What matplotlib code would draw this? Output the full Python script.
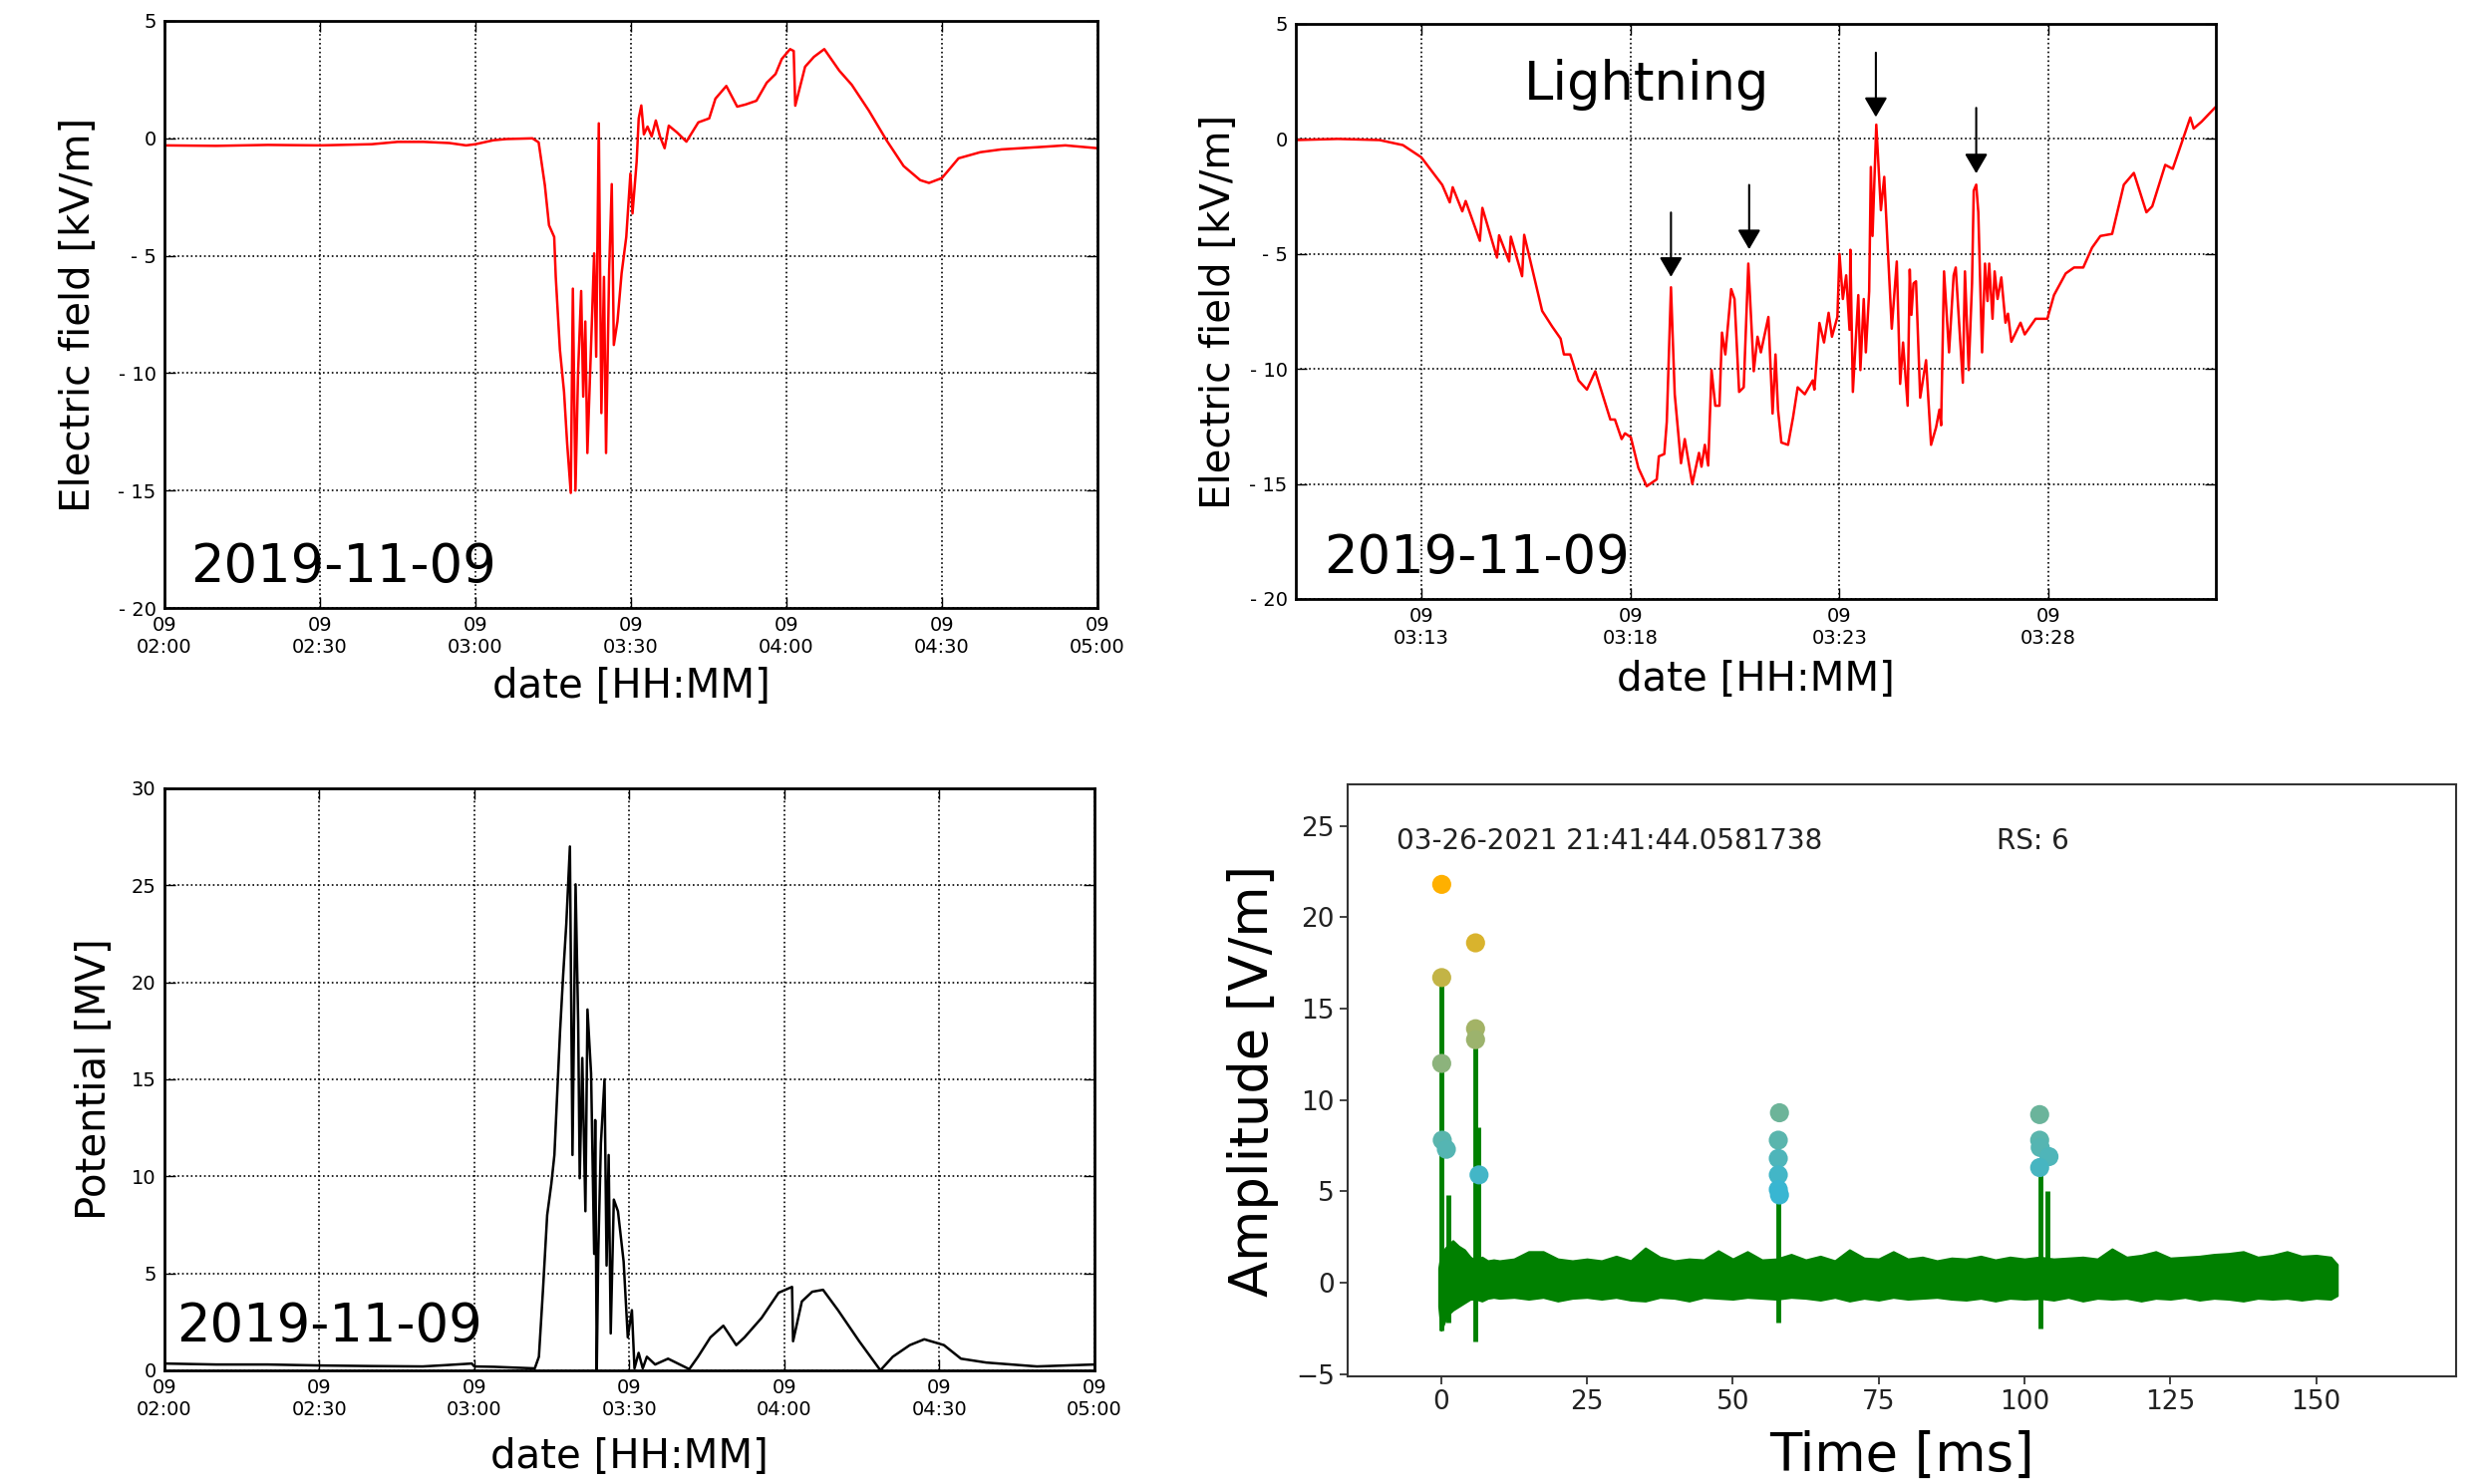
import numpy as np
import pandas as pd
import matplotlib
matplotlib.use("Agg")
import matplotlib.pyplot as plt
import matplotlib.dates as mdates
from matplotlib.colors import LinearSegmentedColormap
from matplotlib.ticker import FuncFormatter

plt.rcParams["font.family"] = ["DejaVu Sans"]

# ── data: field mill, 02:00-05:00 (minutes after 02:00, kV/m) ────────────────
ef_min = [0, 10, 20, 30, 40, 45, 50, 55, 58.2, 60, 63.5, 66, 71, 72.2, 73.4, 74.2,
          75.2, 75.5, 76.3, 77.1, 77.7, 78.4, 78.8, 79.3, 79.8, 80.4, 80.8, 81.2,
          81.6, 82.5, 82.9, 83.3, 83.8, 84.3, 84.8, 85.2, 85.8, 86.3, 86.7, 87.4,
          88.2, 89.1, 89.9, 90.3, 91.1, 91.5, 92.0, 92.5, 93.2, 94.0, 94.8, 95.6,
          96.5, 97.3, 98.9, 100.7, 103.0, 105.1, 106.3, 108.4, 110.5, 112.1, 114.2,
          116.2, 117.9, 119.1, 120.7, 121.4, 121.7, 123.6, 125.3, 127.3, 130.2,
          132.6, 135.9, 139.3, 142.6, 145.8, 147.5, 150.0, 153.2, 157.4, 161.5,
          168.9, 173.8, 180.0]
ef_val = [-0.3, -0.32, -0.28, -0.3, -0.25, -0.15, -0.15, -0.2, -0.3, -0.25, -0.08,
          -0.03, 0.0, -0.17, -2.0, -3.7, -4.2, -5.9, -9.0, -10.8, -13.0, -15.1,
          -6.4, -15.0, -10.0, -6.5, -11.0, -7.8, -13.4, -7.6, -4.9, -9.3, 0.64,
          -11.7, -5.9, -13.4, -5.6, -1.95, -8.8, -7.8, -5.75, -4.2, -1.5, -3.2,
          -1.0, 0.85, 1.4, 0.17, 0.5, 0.08, 0.76, 0.08, -0.42, 0.54, 0.25, -0.14,
          0.68, 0.85, 1.69, 2.23, 1.35, 1.44, 1.6, 2.37, 2.74, 3.38, 3.8, 3.72,
          1.39, 3.05, 3.47, 3.8, 2.88, 2.28, 1.18, -0.08, -1.18, -1.78, -1.9,
          -1.69, -0.85, -0.59, -0.47, -0.37, -0.3, -0.42]

# ── data: zoom 03:10-03:32 (minutes after 03:10, kV/m) ──────────────────────
zm_min = [0.0, 1.0, 2.0, 2.56, 3.0, 3.5, 3.68, 3.75, 3.98, 4.06, 4.40, 4.46, 4.81,
          4.86, 5.10, 5.14, 5.41, 5.46, 5.89, 6.13, 6.33, 6.41, 6.56, 6.76, 6.96,
          7.16, 7.52, 7.63, 7.79, 7.87, 8.01, 8.19, 8.39, 8.63, 8.68, 8.81, 8.87,
          8.97, 9.06, 9.21, 9.30, 9.48, 9.64, 9.70, 9.78, 9.86, 9.94, 10.03, 10.13,
          10.19, 10.27, 10.41, 10.49, 10.60, 10.71, 10.82, 10.95, 11.04, 11.12,
          11.30, 11.40, 11.47, 11.53, 11.61, 11.77, 11.89, 12.00, 12.17, 12.36,
          12.40, 12.52, 12.63, 12.74, 12.82, 12.95, 13.00, 13.08, 13.16, 13.24,
          13.26, 13.32, 13.45, 13.50, 13.58, 13.63, 13.71, 13.75, 13.79, 13.88,
          13.99, 14.07, 14.25, 14.37, 14.45, 14.52, 14.63, 14.68, 14.72, 14.77,
          14.83, 14.93, 15.07, 15.19, 15.31, 15.39, 15.43, 15.50, 15.62, 15.73,
          15.78, 15.86, 15.95, 16.00, 16.09, 16.17, 16.21, 16.27, 16.32, 16.41,
          16.48, 16.54, 16.58, 16.66, 16.71, 16.78, 16.87, 16.97, 17.03, 17.11,
          17.33, 17.43, 17.69, 17.97, 18.13, 18.41, 18.61, 18.83, 19.04, 19.24,
          19.52, 19.80, 20.04, 20.34, 20.48, 20.79, 20.97, 21.39, 21.47, 21.66,
          21.98]
zm_val = [-0.05, 0.0, -0.05, -0.27, -0.8, -2.0, -2.76, -2.1, -3.15, -2.7, -4.43,
          -3.0, -5.16, -4.19, -5.33, -4.25, -5.97, -4.17, -7.48, -8.16, -8.68,
          -9.37, -9.37, -10.5, -10.9, -10.1, -12.2, -12.2, -13.05, -12.8, -12.97,
          -14.3, -15.1, -14.8, -13.8, -13.7, -12.3, -6.45, -11.1, -14.1, -13.05,
          -15.0, -13.65, -14.25, -13.3, -14.2, -10.05, -11.6, -11.6, -8.42, -9.37,
          -6.53, -6.96, -11.0, -10.8, -5.42, -10.1, -8.6, -9.28, -7.74, -11.94,
          -9.37, -11.77, -13.2, -13.3, -12.1, -10.8, -11.1, -10.5, -10.9, -8.0,
          -8.85, -7.56, -8.6, -7.74, -5.0, -6.96, -5.93, -8.3, -4.82, -11.0,
          -6.79, -10.05, -6.96, -9.28, -6.62, -1.22, -4.22, 0.62, -3.1, -1.65,
          -8.25, -5.33, -10.65, -8.85, -11.6, -5.68, -7.65, -6.28, -6.19, -11.25,
          -9.62, -13.3, -12.54, -11.77, -12.45, -5.76, -9.28, -5.93, -5.59, -7.99,
          -10.6, -5.76, -10.05, -6.28, -2.25, -1.99, -3.19, -9.28, -5.42, -7.05,
          -5.42, -7.82, -5.76, -6.96, -6.02, -7.99, -7.6, -8.82, -7.99, -8.5,
          -7.82, -7.82, -6.79, -5.85, -5.59, -5.59, -4.73, -4.22, -4.13, -1.99,
          -1.48, -3.19, -2.93, -1.13, -1.3, 0.93, 0.45, 0.75, 1.36]

# lightning markers: time (min after 03:10), arrow tip, arrow tail
strike_min = [8.97, 10.84, 13.87, 16.27]
strike_tip = [-6.0, -4.8, 0.95, -1.5]
strike_tail = [-3.2, -2.0, 3.75, 1.35]

# ── data: potential, 02:00-05:00 (minutes after 02:00, MV) ──────────────────
pot_min = [0, 10, 20, 30, 40, 50, 54, 59.5, 60, 63.9, 71.7, 72.5, 73.3, 74.1, 74.9,
           75.5, 76.6, 77.2, 77.8, 78.5, 79.0, 79.6, 80.1, 80.4, 80.9, 81.5, 81.9,
           82.6, 83.2, 83.4, 83.7, 84.0, 84.5, 85.2, 85.6, 86.0, 86.4, 87.0, 87.8,
           88.9, 89.7, 90.5, 91.0, 91.8, 92.6, 93.4, 95.0, 97.5, 101.6, 103.3,
           105.7, 108.2, 110.7, 112.3, 115.6, 118.9, 121.5, 121.7, 123.4, 125.4,
           127.5, 130.4, 134.5, 138.6, 141.0, 144.3, 147.1, 150.9, 154.2, 159.1,
           168.9, 180.0]
pot_val = [0.35, 0.3, 0.3, 0.25, 0.22, 0.2, 0.26, 0.35, 0.2, 0.18, 0.1, 0.7, 4.2,
           8.0, 9.6, 11.1, 17.5, 20.4, 23.0, 27.0, 11.1, 25.05, 17.95, 9.9, 16.1,
           8.2, 18.6, 15.3, 6.0, 12.9, 0.0, 6.2, 11.7, 15.0, 5.4, 11.1, 1.9, 8.8,
           8.2, 5.6, 1.7, 3.1, 0.1, 0.9, 0.1, 0.7, 0.3, 0.6, 0.06, 0.7, 1.7, 2.3,
           1.3, 1.7, 2.7, 4.0, 4.3, 1.5, 3.55, 4.05, 4.15, 3.1, 1.5, 0.0, 0.7, 1.3,
           1.6, 1.3, 0.6, 0.4, 0.2, 0.3]

# ── data: fast antenna record (ms, V/m) ─────────────────────────────────────
env_ms = [-0.4, 0, 1, 2, 3, 4, 5, 6, 7, 8, 9, 10,
          12.5, 15, 17.5, 20, 22.5, 25, 27.5, 30, 32.5, 35,
          37.5, 40, 42.5, 45, 47.5, 50, 52.5, 55, 57.5, 60,
          62.5, 65, 67.5, 70, 72.5, 75, 77.5, 80, 82.5, 85,
          87.5, 90, 92.5, 95, 97.5, 100, 102.5, 105, 107.5, 110,
          112.5, 115, 117.5, 120, 122.5, 125, 127.5, 130, 132.5, 135,
          137.5, 140, 142.5, 145, 147.5, 150, 152.5, 153.6]
env_hi = [0.8, 1.6, 2.0, 2.3, 2.0, 1.8, 1.4, 1.2, 1.4, 1.2, 1.25, 1.2,
          1.3, 1.7, 1.7, 1.3, 1.2, 1.3, 1.2, 1.45, 1.2, 1.9,
          1.4, 1.2, 1.3, 1.25, 1.75, 1.3, 1.7, 1.25, 1.3, 1.55,
          1.25, 1.45, 1.2, 1.8, 1.35, 1.3, 1.7, 1.3, 1.4, 1.2,
          1.35, 1.3, 1.45, 1.25, 1.4, 1.3, 1.4, 1.3, 1.35, 1.4,
          1.3, 1.85, 1.4, 1.5, 1.7, 1.35, 1.4, 1.45, 1.55, 1.6,
          1.7, 1.4, 1.5, 1.7, 1.45, 1.5, 1.4, 1.0]
env_lo = [-1.3, -2.6, -1.8, -1.5, -1.3, -1.1, -0.9, -0.9, -1.0, -0.85, -0.8, -0.85,
          -0.8, -0.9, -0.8, -1.0, -0.85, -0.8, -0.9, -0.8, -0.95, -1.0,
          -0.8, -0.85, -1.0, -0.8, -0.85, -0.9, -0.8, -0.85, -0.9, -0.8,
          -0.85, -0.95, -0.8, -1.0, -0.85, -0.95, -0.8, -0.9, -0.85, -0.8,
          -0.9, -0.95, -0.85, -1.0, -0.85, -0.9, -0.85, -0.95, -0.8, -1.0,
          -0.85, -0.9, -0.85, -1.0, -0.85, -0.9, -0.8, -0.95, -0.85, -0.9,
          -1.0, -0.85, -0.9, -0.85, -0.95, -0.85, -0.9, -0.7]
spike_ms = [0.0, 1.2, 5.9, 6.4, 57.8, 102.7, 104.0]
spike_top = [16.6, 4.8, 13.2, 8.5, 4.9, 6.3, 5.0]
spike_bot = [-2.6, -2.2, -3.2, 0.0, -2.2, -2.5, 0.0]

src_ms = [0.1, 0.1, 0.1, 0.2, 0.9, 5.9, 5.9, 5.9, 6.5, 58.0, 57.8, 57.8, 57.8,
          57.8, 58.0, 102.6, 102.6, 102.7, 104.2, 102.6]
src_amp = [21.8, 16.7, 12.0, 7.8, 7.3, 18.6, 13.9, 13.3, 5.9, 9.3, 7.8, 6.8, 5.9,
           5.1, 4.8, 9.2, 7.8, 7.4, 6.9, 6.3]

t0 = pd.Timestamp("2019-11-09 02:00")
t1 = pd.Timestamp("2019-11-09 03:10")


def to_time(base, minutes):
    return base + pd.to_timedelta(np.asarray(minutes, dtype=float), unit="min")


def field_fmt(v, pos):
    return f"- {abs(int(round(v)))}" if v < 0 else f"{int(round(v))}"


def style_classic(ax):
    ax.grid(True, color="k", linestyle=":", linewidth=1.2)
    ax.tick_params(direction="in", top=True, right=True, length=8, width=1,
                   labelsize=14, pad=6)
    for sp in ax.spines.values():
        sp.set_linewidth(2)
    ax.xaxis.set_major_formatter(mdates.DateFormatter("%d\n%H:%M"))
    for lab in ax.get_xticklabels():
        lab.set_ha("center")


fig = plt.figure(figsize=(24.91, 14.89), dpi=100)

# ─ Panel 1: electric field, full interval ───────────────────────────────────
ax1 = fig.add_axes([0.0662, 0.5903, 0.3758, 0.3956])
ax1.plot(to_time(t0, ef_min), ef_val, color="red", lw=1.8)
ax1.set_xlim(t0, t0 + pd.Timedelta(minutes=180))
ax1.set_ylim(-20, 5)
ax1.set_yticks(np.arange(-20, 6, 5))
ax1.yaxis.set_major_formatter(FuncFormatter(field_fmt))
ax1.xaxis.set_major_locator(mdates.MinuteLocator(byminute=[0, 30]))
style_classic(ax1)
ax1.set_ylabel("Electric field [kV/m]", fontsize=29)
ax1.yaxis.set_label_coords(-0.07, 0.5)
ax1.set_xlabel("date [HH:MM]", fontsize=29)
ax1.xaxis.set_label_coords(0.5, -0.10)
ax1.text(0.028, 0.045, "2019-11-09", transform=ax1.transAxes, fontsize=38)

# ─ Panel 2: electric field, zoom on the lightning period ─────────────────────
ax2 = fig.add_axes([0.5219, 0.5964, 0.3705, 0.3875])
ax2.plot(to_time(t1, zm_min), zm_val, color="red", lw=1.8)
ax2.set_xlim(t1, t1 + pd.Timedelta(minutes=22))
ax2.set_ylim(-20, 5)
ax2.set_yticks(np.arange(-20, 6, 5))
ax2.yaxis.set_major_formatter(FuncFormatter(field_fmt))
ax2.xaxis.set_major_locator(mdates.MinuteLocator(byminute=[13, 18, 23, 28]))
style_classic(ax2)
ax2.set_ylabel("Electric field [kV/m]", fontsize=29)
ax2.yaxis.set_label_coords(-0.062, 0.5)
ax2.set_xlabel("date [HH:MM]", fontsize=29)
ax2.xaxis.set_label_coords(0.5, -0.105)
ax2.text(0.03, 0.045, "2019-11-09", transform=ax2.transAxes, fontsize=38)
for m, tip, tail in zip(strike_min, strike_tip, strike_tail):
    tt = t1 + pd.Timedelta(minutes=m)
    ax2.annotate("", xy=(tt, tip), xytext=(tt, tail),
                 arrowprops=dict(arrowstyle="-|>,head_width=0.35,head_length=0.6",
                                 color="k", lw=1.5, mutation_scale=20,
                                 shrinkA=0, shrinkB=0))
ax2.text(t1 + pd.Timedelta(minutes=8.4), 2.35, "Lightning", fontsize=38,
         ha="center", va="center")

# ─ Panel 3: potential ───────────────────────────────────────────────────────
ax3 = fig.add_axes([0.0662, 0.0766, 0.3745, 0.3922])
ax3.plot(to_time(t0, pot_min), pot_val, color="black", lw=1.8)
ax3.set_xlim(t0, t0 + pd.Timedelta(minutes=180))
ax3.set_ylim(0, 30)
ax3.set_yticks(np.arange(0, 31, 5))
ax3.xaxis.set_major_locator(mdates.MinuteLocator(byminute=[0, 30]))
style_classic(ax3)
ax3.set_ylabel("Potential [MV]", fontsize=29)
ax3.yaxis.set_label_coords(-0.054, 0.5)
ax3.set_xlabel("date [HH:MM]", fontsize=29)
ax3.xaxis.set_label_coords(0.5, -0.115)
ax3.text(0.013, 0.05, "2019-11-09", transform=ax3.transAxes, fontsize=38)

# ─ Panel 4: fast antenna waveform with located sources ──────────────────────
ax4 = fig.add_axes([0.5428, 0.0725, 0.4464, 0.3989])
green = "#008000"
ax4.fill_between(env_ms, env_lo, env_hi, color=green, lw=1.5, edgecolor=green)
ax4.vlines(spike_ms, spike_bot, spike_top, color=green, lw=3.5)
amp_cmap = LinearSegmentedColormap.from_list(
    "amp", ["#38b6d2", "#6cb49a", "#9db36c", "#cdb43c", "#ffb000"])
ax4.scatter(src_ms, src_amp, c=src_amp, cmap=amp_cmap, vmin=5, vmax=21.8,
            s=190, zorder=3, edgecolors="none")
ax4.set_xlim(-16, 174)
ax4.set_ylim(-5.13, 27.27)
ax4.set_xticks(np.arange(0, 151, 25))
ax4.set_yticks(np.arange(-5, 26, 5))
ax4.tick_params(direction="out", length=6, width=1.2, labelsize=19,
                colors="#222222")
for sp in ax4.spines.values():
    sp.set_color("#333333")
    sp.set_linewidth(1.5)
ax4.set_ylabel("Amplitude [V/m]", fontsize=38)
ax4.yaxis.set_label_coords(-0.062, 0.5)
ax4.set_xlabel("Time [ms]", fontsize=38)
ax4.xaxis.set_label_coords(0.5, -0.09)
ax4.text(0.044, 0.905, "03-26-2021 21:41:44.0581738", transform=ax4.transAxes,
         fontsize=20, color="#222222", va="center")
ax4.text(0.585, 0.905, "RS: 6", transform=ax4.transAxes, fontsize=20,
         color="#222222", va="center")

fig.savefig("out.png", dpi=100)
